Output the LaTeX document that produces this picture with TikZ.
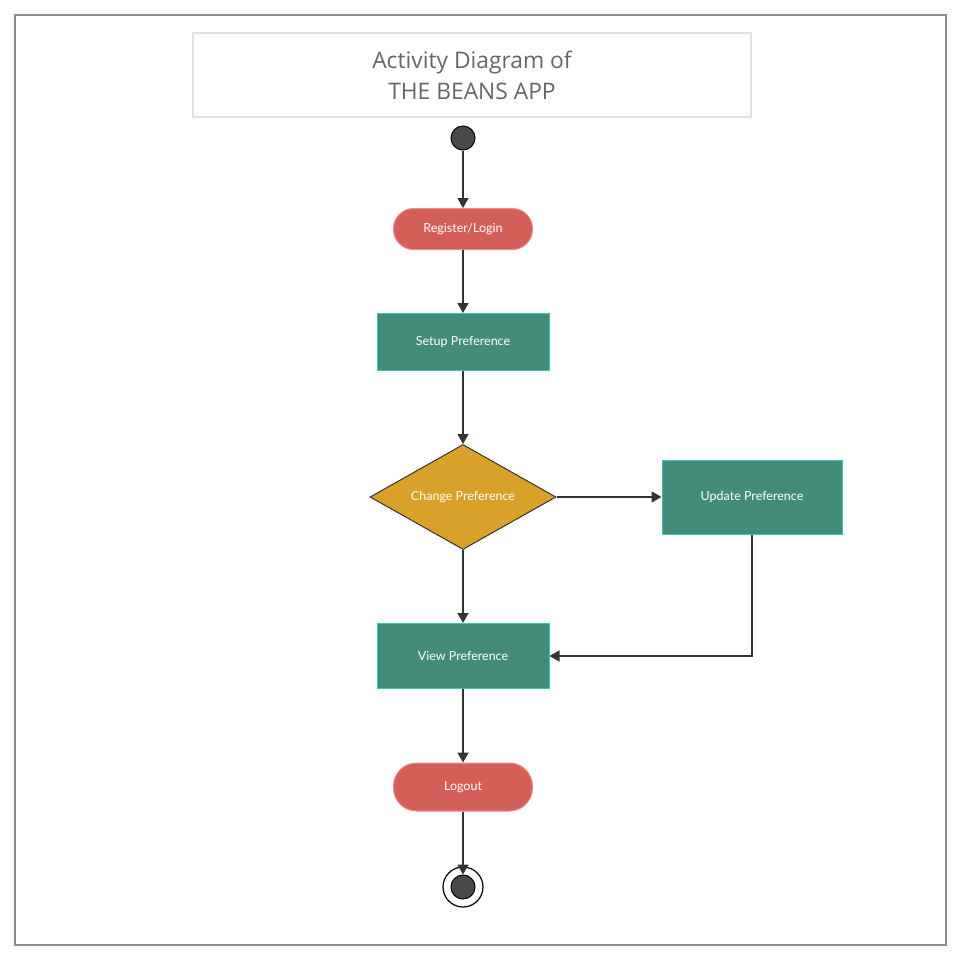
\documentclass[tikz,border=0pt]{standalone}
\usepackage{fontspec}
\setmainfont{Lato}
\newfontfamily\titlefont{Open Sans}
\usetikzlibrary{shapes.geometric,arrows.meta}
\definecolor{redfill}{HTML}{D45F59}
\definecolor{redline}{HTML}{F08A84}
\definecolor{tealfill}{HTML}{458B79}
\definecolor{tealline}{HTML}{3CC2BC}
\definecolor{goldfill}{HTML}{D9A12A}
\definecolor{darkline}{HTML}{333333}
\definecolor{dotfill}{HTML}{4A4A4A}
\tikzset{
  pill/.style={draw=redline, line width=1pt, fill=redfill, rounded corners=20pt, minimum width=139pt, minimum height=41pt, text=white, font=\fontsize{12.5}{14}\selectfont},
  actbox/.style={draw=tealline, line width=1pt, fill=tealfill, text=white, font=\fontsize{12.5}{14}\selectfont},
  decision/.style={diamond, draw=darkline, line width=1pt, fill=goldfill, text=white, font=\fontsize{12.5}{14}\selectfont, inner sep=0pt, minimum width=186pt, minimum height=105pt, aspect=1.77},
  flow/.style={draw=darkline, line width=1.4pt, -{Triangle[length=10pt,width=11pt]}},
  dot/.style={circle, draw=black, line width=1pt, fill=dotfill, inner sep=0pt},
}
\begin{document}
\begin{tikzpicture}[x=1pt,y=-1pt]
\useasboundingbox (0,0) rectangle (961,962);
\draw[draw=gray!90, line width=1.2pt] (15,15) rectangle (946,945);
\node[draw=black!12, line width=1.2pt, minimum width=558pt, minimum height=84pt, text=black!60, font=\titlefont\fontsize{22.8}{31}\selectfont, align=center] (title) at (472,75) {Activity Diagram of\\THE BEANS APP};
\node[dot, minimum size=24pt] (start) at (463,138) {};
\node[pill] (reg) at (463,229) {Register/Login};
\node[actbox, minimum width=172pt, minimum height=57pt] (setup) at (463,342) {Setup Preference};
\node[decision] (change) at (463,497) {Change Preference};
\node[actbox, minimum width=180pt, minimum height=74pt] (update) at (752,497) {Update Preference};
\node[actbox, minimum width=172pt, minimum height=65pt] (view) at (463,656) {View Preference};
\node[pill, minimum height=48pt, rounded corners=23pt] (logout) at (463,787) {Logout};
\node[circle, draw=black, line width=1.2pt, minimum size=40pt, inner sep=0pt] (endring) at (463,887) {};
\node[dot, minimum size=24pt] (enddot) at (463,887) {};
\draw[flow] (start) -- (reg);
\draw[flow] (reg) -- (setup);
\draw[flow] (setup) -- (change);
\draw[flow] (change.east) -- (update.west);
\draw[flow] (change) -- (view);
\draw[flow] (update.south) |- (view.east);
\draw[flow] (view) -- (logout);
\draw[flow] (logout) -- (enddot);
\end{tikzpicture}
\end{document}
